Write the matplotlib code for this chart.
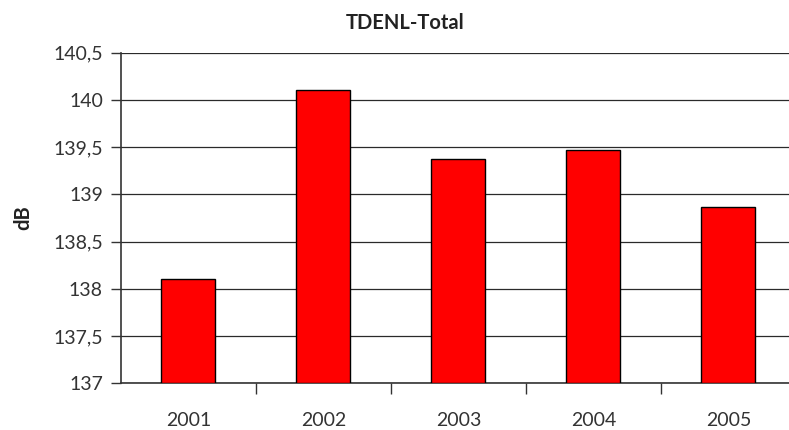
import matplotlib
matplotlib.use("Agg")
import matplotlib.pyplot as plt

# dados
anos = ["2001", "2002", "2003", "2004", "2005"]
tdenl = [138.10, 140.10, 139.37, 139.47, 138.87]
yticks = [137, 137.5, 138, 138.5, 139, 139.5, 140, 140.5]
ytick_labels = ["137", "137,5", "138", "138,5", "139", "139,5", "140", "140,5"]

plt.rcParams["font.family"] = ["Lato", "DejaVu Sans"]

fig = plt.figure(figsize=(7.89, 4.30), dpi=100)
# plot area runs past the right edge like the original
ax = fig.add_axes([121 / 789, 1 - 383.3 / 430, 675 / 789, (383.3 - 52.7) / 430])

x = range(len(anos))
ax.bar(x, [v - 137 for v in tdenl], bottom=137, width=0.4, color="#ff0000",
       edgecolor="black", linewidth=1, zorder=3)

ax.set_xlim(-0.5, len(anos) - 0.5)
ax.set_ylim(137, 140.5)
ax.set_yticks(yticks)
ax.set_yticklabels(ytick_labels)
ax.set_xticks(list(x))
ax.set_xticklabels(anos)
ax.set_xticks([i + 0.5 for i in range(len(anos))], minor=True)

ax.grid(axis="y", color="#2a2a2a", linewidth=0.9, zorder=0)
for s in ["top", "right"]:
    ax.spines[s].set_visible(False)
ax.spines["left"].set_color("#333333")
ax.spines["bottom"].set_color("#333333")
ax.spines["left"].set_linewidth(1.2)
ax.spines["bottom"].set_linewidth(1.2)

ax.tick_params(axis="y", length=7, width=1, color="#333333", labelsize=14,
               labelcolor="#333333", pad=6)
ax.tick_params(axis="x", which="major", length=0, labelsize=14,
               labelcolor="#333333", pad=21)
ax.tick_params(axis="x", which="minor", length=8, width=1, color="#333333")

fig.text(405 / 789, 1 - 23 / 430, "TDENL-Total", ha="center", va="center",
         fontsize=14.5, fontweight="bold", color="#222222")
fig.text(23 / 789, 1 - 218 / 430, "dB", ha="center", va="center", rotation=90,
         fontsize=14.5, fontweight="bold", color="#222222")

fig.savefig("out.png", dpi=100)
